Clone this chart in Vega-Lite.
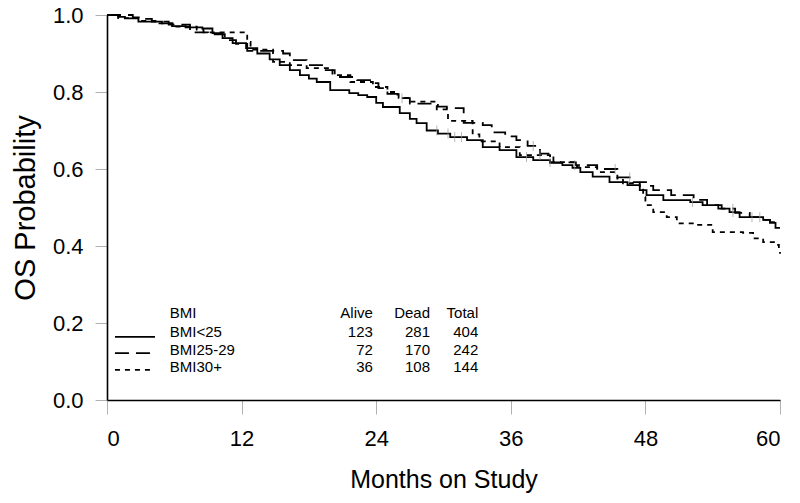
{
  "$schema": "https://vega.github.io/schema/vega-lite/v6.json",
  "width": 673,
  "height": 385,
  "autosize": {"type": "none"},
  "padding": {"left": 107, "top": 15, "right": 20, "bottom": 103},
  "background": "white",
  "config": {
    "view": {"stroke": null},
    "font": "Liberation Sans",
    "text": {"font": "Liberation Sans"}
  },
  "datasets": {
    "km": [
      {"group": "BMI<25", "months": 0, "surv": 1.0},
      {"group": "BMI<25", "months": 1.0, "surv": 0.995},
      {"group": "BMI<25", "months": 1.6, "surv": 0.991},
      {"group": "BMI<25", "months": 2.8, "surv": 0.983},
      {"group": "BMI<25", "months": 4.9, "surv": 0.978},
      {"group": "BMI<25", "months": 5.8, "surv": 0.971},
      {"group": "BMI<25", "months": 7.0, "surv": 0.968},
      {"group": "BMI<25", "months": 8.5, "surv": 0.965},
      {"group": "BMI<25", "months": 9.4, "surv": 0.953},
      {"group": "BMI<25", "months": 10.3, "surv": 0.94},
      {"group": "BMI<25", "months": 11.2, "surv": 0.927},
      {"group": "BMI<25", "months": 12.4, "surv": 0.914},
      {"group": "BMI<25", "months": 13.4, "surv": 0.9},
      {"group": "BMI<25", "months": 14.5, "surv": 0.885},
      {"group": "BMI<25", "months": 15.4, "surv": 0.87},
      {"group": "BMI<25", "months": 16.3, "surv": 0.857},
      {"group": "BMI<25", "months": 17.2, "surv": 0.844},
      {"group": "BMI<25", "months": 18.0, "surv": 0.835},
      {"group": "BMI<25", "months": 18.7, "surv": 0.826},
      {"group": "BMI<25", "months": 19.9, "surv": 0.805},
      {"group": "BMI<25", "months": 21.6, "surv": 0.797},
      {"group": "BMI<25", "months": 22.4, "surv": 0.792},
      {"group": "BMI<25", "months": 23.2, "surv": 0.787},
      {"group": "BMI<25", "months": 24.0, "surv": 0.772},
      {"group": "BMI<25", "months": 24.6, "surv": 0.761},
      {"group": "BMI<25", "months": 26.1, "surv": 0.745},
      {"group": "BMI<25", "months": 27.0, "surv": 0.73},
      {"group": "BMI<25", "months": 27.6, "surv": 0.719},
      {"group": "BMI<25", "months": 28.5, "surv": 0.7},
      {"group": "BMI<25", "months": 29.5, "surv": 0.692},
      {"group": "BMI<25", "months": 30.6, "surv": 0.683},
      {"group": "BMI<25", "months": 32.1, "surv": 0.675},
      {"group": "BMI<25", "months": 33.5, "surv": 0.657},
      {"group": "BMI<25", "months": 35.0, "surv": 0.649},
      {"group": "BMI<25", "months": 36.5, "surv": 0.631},
      {"group": "BMI<25", "months": 38.0, "surv": 0.623},
      {"group": "BMI<25", "months": 39.5, "surv": 0.616},
      {"group": "BMI<25", "months": 40.6, "surv": 0.61},
      {"group": "BMI<25", "months": 41.5, "surv": 0.603},
      {"group": "BMI<25", "months": 42.2, "surv": 0.592},
      {"group": "BMI<25", "months": 43.3, "surv": 0.58},
      {"group": "BMI<25", "months": 44.8, "surv": 0.566},
      {"group": "BMI<25", "months": 46.4, "surv": 0.558},
      {"group": "BMI<25", "months": 47.5, "surv": 0.545},
      {"group": "BMI<25", "months": 48.1, "surv": 0.532},
      {"group": "BMI<25", "months": 49.6, "surv": 0.519},
      {"group": "BMI<25", "months": 52.0, "surv": 0.514},
      {"group": "BMI<25", "months": 53.1, "surv": 0.506},
      {"group": "BMI<25", "months": 54.5, "surv": 0.497},
      {"group": "BMI<25", "months": 55.5, "surv": 0.488},
      {"group": "BMI<25", "months": 56.4, "surv": 0.475},
      {"group": "BMI<25", "months": 58.5, "surv": 0.468},
      {"group": "BMI<25", "months": 59.1, "surv": 0.46},
      {"group": "BMI<25", "months": 59.6, "surv": 0.447},
      {"group": "BMI<25", "months": 60, "surv": 0.447},

      {"group": "BMI25-29", "months": 0, "surv": 1.0},
      {"group": "BMI25-29", "months": 2.3, "surv": 0.994},
      {"group": "BMI25-29", "months": 3.2, "surv": 0.99},
      {"group": "BMI25-29", "months": 4.0, "surv": 0.983},
      {"group": "BMI25-29", "months": 5.5, "surv": 0.975},
      {"group": "BMI25-29", "months": 7.4, "surv": 0.955},
      {"group": "BMI25-29", "months": 9.0, "surv": 0.95},
      {"group": "BMI25-29", "months": 10.5, "surv": 0.935},
      {"group": "BMI25-29", "months": 11.5, "surv": 0.925},
      {"group": "BMI25-29", "months": 12.5, "surv": 0.907},
      {"group": "BMI25-29", "months": 15.7, "surv": 0.9},
      {"group": "BMI25-29", "months": 16.3, "surv": 0.883},
      {"group": "BMI25-29", "months": 17.8, "surv": 0.87},
      {"group": "BMI25-29", "months": 19.5, "surv": 0.857},
      {"group": "BMI25-29", "months": 20.3, "surv": 0.839},
      {"group": "BMI25-29", "months": 22.3, "surv": 0.831},
      {"group": "BMI25-29", "months": 23.7, "surv": 0.823},
      {"group": "BMI25-29", "months": 24.2, "surv": 0.81},
      {"group": "BMI25-29", "months": 25.0, "surv": 0.795},
      {"group": "BMI25-29", "months": 25.9, "surv": 0.784},
      {"group": "BMI25-29", "months": 27.0, "surv": 0.77},
      {"group": "BMI25-29", "months": 29.5, "surv": 0.762},
      {"group": "BMI25-29", "months": 30.3, "surv": 0.758},
      {"group": "BMI25-29", "months": 31.8, "surv": 0.72},
      {"group": "BMI25-29", "months": 33.5, "surv": 0.714},
      {"group": "BMI25-29", "months": 34.3, "surv": 0.695},
      {"group": "BMI25-29", "months": 35.5, "surv": 0.685},
      {"group": "BMI25-29", "months": 36.5, "surv": 0.675},
      {"group": "BMI25-29", "months": 37.5, "surv": 0.66},
      {"group": "BMI25-29", "months": 38.6, "surv": 0.64},
      {"group": "BMI25-29", "months": 39.8, "surv": 0.617},
      {"group": "BMI25-29", "months": 41.8, "surv": 0.61},
      {"group": "BMI25-29", "months": 43.7, "surv": 0.6},
      {"group": "BMI25-29", "months": 45.5, "surv": 0.578},
      {"group": "BMI25-29", "months": 46.9, "surv": 0.566},
      {"group": "BMI25-29", "months": 48.2, "surv": 0.556},
      {"group": "BMI25-29", "months": 48.7, "surv": 0.545},
      {"group": "BMI25-29", "months": 50.3, "surv": 0.532},
      {"group": "BMI25-29", "months": 52.3, "surv": 0.52},
      {"group": "BMI25-29", "months": 53.5, "surv": 0.506},
      {"group": "BMI25-29", "months": 54.8, "surv": 0.497},
      {"group": "BMI25-29", "months": 56.0, "surv": 0.486},
      {"group": "BMI25-29", "months": 57.3, "surv": 0.475},
      {"group": "BMI25-29", "months": 58.4, "surv": 0.468},
      {"group": "BMI25-29", "months": 59.1, "surv": 0.462},
      {"group": "BMI25-29", "months": 60, "surv": 0.462},

      {"group": "BMI30+", "months": 0, "surv": 1.0},
      {"group": "BMI30+", "months": 1.0, "surv": 0.992},
      {"group": "BMI30+", "months": 3.0, "surv": 0.985},
      {"group": "BMI30+", "months": 4.5, "surv": 0.978},
      {"group": "BMI30+", "months": 6.0, "surv": 0.97},
      {"group": "BMI30+", "months": 8.0, "surv": 0.962},
      {"group": "BMI30+", "months": 8.6, "surv": 0.955},
      {"group": "BMI30+", "months": 12.5, "surv": 0.93},
      {"group": "BMI30+", "months": 12.8, "surv": 0.91},
      {"group": "BMI30+", "months": 14.8, "surv": 0.878},
      {"group": "BMI30+", "months": 16.3, "surv": 0.87},
      {"group": "BMI30+", "months": 17.8, "surv": 0.862},
      {"group": "BMI30+", "months": 20.1, "surv": 0.844},
      {"group": "BMI30+", "months": 21.7, "surv": 0.826},
      {"group": "BMI30+", "months": 23.7, "surv": 0.813},
      {"group": "BMI30+", "months": 25.0, "surv": 0.8},
      {"group": "BMI30+", "months": 26.0, "surv": 0.785},
      {"group": "BMI30+", "months": 27.0, "surv": 0.775},
      {"group": "BMI30+", "months": 29.4, "surv": 0.755},
      {"group": "BMI30+", "months": 30.4, "surv": 0.725},
      {"group": "BMI30+", "months": 32.6, "surv": 0.69},
      {"group": "BMI30+", "months": 33.2, "surv": 0.672},
      {"group": "BMI30+", "months": 35.0, "surv": 0.657},
      {"group": "BMI30+", "months": 36.8, "surv": 0.636},
      {"group": "BMI30+", "months": 39.5, "surv": 0.618},
      {"group": "BMI30+", "months": 41.9, "surv": 0.605},
      {"group": "BMI30+", "months": 43.7, "surv": 0.592},
      {"group": "BMI30+", "months": 45.5, "surv": 0.575},
      {"group": "BMI30+", "months": 46.0, "surv": 0.563},
      {"group": "BMI30+", "months": 47.5, "surv": 0.55},
      {"group": "BMI30+", "months": 47.8, "surv": 0.527},
      {"group": "BMI30+", "months": 48.0, "surv": 0.506},
      {"group": "BMI30+", "months": 48.7, "surv": 0.488},
      {"group": "BMI30+", "months": 49.9, "surv": 0.475},
      {"group": "BMI30+", "months": 50.8, "surv": 0.459},
      {"group": "BMI30+", "months": 52.6, "surv": 0.455},
      {"group": "BMI30+", "months": 54.0, "surv": 0.436},
      {"group": "BMI30+", "months": 56.7, "surv": 0.434},
      {"group": "BMI30+", "months": 57.6, "surv": 0.42},
      {"group": "BMI30+", "months": 58.5, "surv": 0.41},
      {"group": "BMI30+", "months": 59.7, "surv": 0.403},
      {"group": "BMI30+", "months": 59.9, "surv": 0.385},
      {"group": "BMI30+", "months": 60, "surv": 0.38}
    ],
    "censor": [
      {"group": "BMI<25", "months": 29.4, "surv": 0.7},
      {"group": "BMI<25", "months": 30.4, "surv": 0.692},
      {"group": "BMI<25", "months": 31.0, "surv": 0.683},
      {"group": "BMI<25", "months": 31.6, "surv": 0.683},
      {"group": "BMI<25", "months": 37.4, "surv": 0.631},
      {"group": "BMI<25", "months": 52.2, "surv": 0.514},
      {"group": "BMI<25", "months": 55.8, "surv": 0.488},
      {"group": "BMI<25", "months": 57.5, "surv": 0.475},
      {"group": "BMI<25", "months": 58.2, "surv": 0.475},
      {"group": "BMI25-29", "months": 26.3, "surv": 0.784},
      {"group": "BMI25-29", "months": 38.0, "surv": 0.66},
      {"group": "BMI25-29", "months": 41.7, "surv": 0.61},
      {"group": "BMI25-29", "months": 45.3, "surv": 0.6},
      {"group": "BMI25-29", "months": 46.6, "surv": 0.578},
      {"group": "BMI25-29", "months": 55.8, "surv": 0.497},
      {"group": "BMI30+", "months": 38.6, "surv": 0.636},
      {"group": "BMI30+", "months": 39.5, "surv": 0.618}
    ],
    "legend": [
      {"group": "BMI<25", "alive": 123, "dead": 281, "total": 404},
      {"group": "BMI25-29", "alive": 72, "dead": 170, "total": 242},
      {"group": "BMI30+", "alive": 36, "dead": 108, "total": 144}
    ]
  },
  "layer": [
    {
      "data": {"name": "km"},
      "mark": {"type": "line", "interpolate": "step-after", "color": "black", "strokeWidth": 1.8},
      "encoding": {
        "x": {
          "field": "months", "type": "quantitative",
          "scale": {"domain": [0, 60], "nice": false, "zero": false},
          "axis": {
            "values": [0, 12, 24, 36, 48, 60], "format": "d", "grid": false,
            "domainColor": "black", "domainWidth": 1.6,
            "tickColor": "#b0b0b0", "tickSize": 14, "tickWidth": 1,
            "labelFont": "Liberation Sans", "labelFontSize": 22, "labelColor": "black",
            "labelPadding": 14,
            "title": "Months on Study", "titleFont": "Liberation Sans", "titleFontSize": 25,
            "titleFontWeight": "normal", "titleColor": "black", "titlePadding": 18
          }
        },
        "y": {
          "field": "surv", "type": "quantitative",
          "scale": {"domain": [0, 1], "nice": false},
          "axis": {
            "values": [0, 0.2, 0.4, 0.6, 0.8, 1.0], "format": ".1f", "grid": false,
            "domainColor": "black", "domainWidth": 1.6,
            "tickColor": "#b0b0b0", "tickSize": 12, "tickWidth": 1,
            "labelFont": "Liberation Sans", "labelFontSize": 22, "labelColor": "black",
            "labelPadding": 12,
            "title": "OS Probability", "titleFont": "Liberation Sans", "titleFontSize": 29,
            "titleFontWeight": "normal", "titleColor": "black", "titlePadding": 12
          }
        },
        "detail": {"field": "group"},
        "strokeDash": {
          "field": "group", "type": "nominal",
          "scale": {"domain": ["BMI<25", "BMI25-29", "BMI30+"], "range": [[1, 0], [14, 7], [5, 5]]},
          "legend": null
        }
      }
    },
    {
      "data": {"name": "censor"},
      "mark": {"type": "tick", "orient": "vertical", "color": "#999999", "size": 10, "thickness": 1},
      "encoding": {
        "x": {"field": "months", "type": "quantitative"},
        "y": {"field": "surv", "type": "quantitative"}
      }
    },
    {
      "data": {"values": [{"h": "BMI"}]},
      "mark": {"type": "text", "align": "left", "baseline": "middle", "fontSize": 15, "color": "black"},
      "encoding": {"x": {"datum": 5.6}, "y": {"datum": 0.226}, "text": {"value": "BMI"}}
    },
    {
      "data": {"values": [{"h": "Alive"}]},
      "mark": {"type": "text", "align": "right", "baseline": "middle", "fontSize": 15, "color": "black"},
      "encoding": {"x": {"datum": 23.7}, "y": {"datum": 0.226}, "text": {"value": "Alive"}}
    },
    {
      "data": {"values": [{"h": "Dead"}]},
      "mark": {"type": "text", "align": "right", "baseline": "middle", "fontSize": 15, "color": "black"},
      "encoding": {"x": {"datum": 28.8}, "y": {"datum": 0.226}, "text": {"value": "Dead"}}
    },
    {
      "data": {"values": [{"h": "Total"}]},
      "mark": {"type": "text", "align": "right", "baseline": "middle", "fontSize": 15, "color": "black"},
      "encoding": {"x": {"datum": 33.1}, "y": {"datum": 0.226}, "text": {"value": "Total"}}
    },
    {
      "data": {"name": "legend"},
      "transform": [{"filter": "datum.group == 'BMI<25'"}],
      "layer": [
        {
          "mark": {"type": "rule", "color": "black", "strokeWidth": 1.8},
          "encoding": {
            "x": {"datum": 0.71}, "x2": {"datum": 4.28}, "y": {"datum": 0.164},
            "strokeDash": {"field": "group", "type": "nominal", "legend": null}
          }
        },
        {
          "mark": {"type": "text", "align": "left", "baseline": "middle", "fontSize": 15, "color": "black"},
          "encoding": {"x": {"datum": 5.6}, "y": {"datum": 0.177}, "text": {"field": "group"}}
        },
        {
          "mark": {"type": "text", "align": "right", "baseline": "middle", "fontSize": 15, "color": "black"},
          "encoding": {"x": {"datum": 23.7}, "y": {"datum": 0.177}, "text": {"field": "alive"}}
        },
        {
          "mark": {"type": "text", "align": "right", "baseline": "middle", "fontSize": 15, "color": "black"},
          "encoding": {"x": {"datum": 28.8}, "y": {"datum": 0.177}, "text": {"field": "dead"}}
        },
        {
          "mark": {"type": "text", "align": "right", "baseline": "middle", "fontSize": 15, "color": "black"},
          "encoding": {"x": {"datum": 33.1}, "y": {"datum": 0.177}, "text": {"field": "total"}}
        }
      ]
    },
    {
      "data": {"name": "legend"},
      "transform": [{"filter": "datum.group == 'BMI25-29'"}],
      "layer": [
        {
          "mark": {"type": "rule", "color": "black", "strokeWidth": 1.8},
          "encoding": {
            "x": {"datum": 0.71}, "x2": {"datum": 4.28}, "y": {"datum": 0.122},
            "strokeDash": {"field": "group", "type": "nominal", "legend": null}
          }
        },
        {
          "mark": {"type": "text", "align": "left", "baseline": "middle", "fontSize": 15, "color": "black"},
          "encoding": {"x": {"datum": 5.6}, "y": {"datum": 0.13}, "text": {"field": "group"}}
        },
        {
          "mark": {"type": "text", "align": "right", "baseline": "middle", "fontSize": 15, "color": "black"},
          "encoding": {"x": {"datum": 23.7}, "y": {"datum": 0.13}, "text": {"field": "alive"}}
        },
        {
          "mark": {"type": "text", "align": "right", "baseline": "middle", "fontSize": 15, "color": "black"},
          "encoding": {"x": {"datum": 28.8}, "y": {"datum": 0.13}, "text": {"field": "dead"}}
        },
        {
          "mark": {"type": "text", "align": "right", "baseline": "middle", "fontSize": 15, "color": "black"},
          "encoding": {"x": {"datum": 33.1}, "y": {"datum": 0.13}, "text": {"field": "total"}}
        }
      ]
    },
    {
      "data": {"name": "legend"},
      "transform": [{"filter": "datum.group == 'BMI30+'"}],
      "layer": [
        {
          "mark": {"type": "rule", "color": "black", "strokeWidth": 1.8},
          "encoding": {
            "x": {"datum": 0.71}, "x2": {"datum": 4.28}, "y": {"datum": 0.078},
            "strokeDash": {"field": "group", "type": "nominal", "legend": null}
          }
        },
        {
          "mark": {"type": "text", "align": "left", "baseline": "middle", "fontSize": 15, "color": "black"},
          "encoding": {"x": {"datum": 5.6}, "y": {"datum": 0.086}, "text": {"field": "group"}}
        },
        {
          "mark": {"type": "text", "align": "right", "baseline": "middle", "fontSize": 15, "color": "black"},
          "encoding": {"x": {"datum": 23.7}, "y": {"datum": 0.086}, "text": {"field": "alive"}}
        },
        {
          "mark": {"type": "text", "align": "right", "baseline": "middle", "fontSize": 15, "color": "black"},
          "encoding": {"x": {"datum": 28.8}, "y": {"datum": 0.086}, "text": {"field": "dead"}}
        },
        {
          "mark": {"type": "text", "align": "right", "baseline": "middle", "fontSize": 15, "color": "black"},
          "encoding": {"x": {"datum": 33.1}, "y": {"datum": 0.086}, "text": {"field": "total"}}
        }
      ]
    }
  ]
}
